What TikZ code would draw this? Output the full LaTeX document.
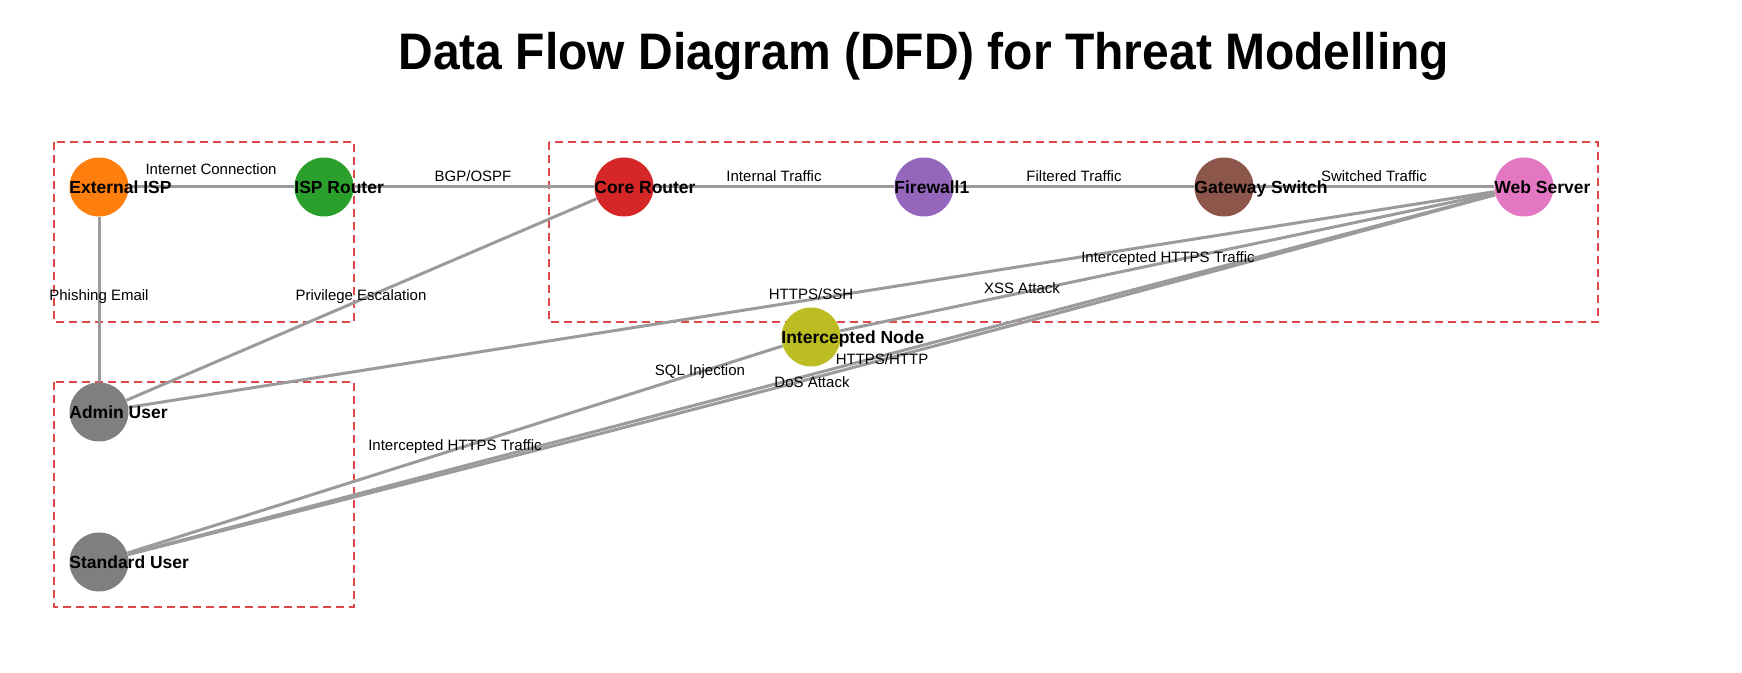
\documentclass[tikz,border=0pt]{standalone}
\usepackage{fontspec}
\setmainfont{Liberation Sans}
\usetikzlibrary{backgrounds}
\definecolor{cOrange}{HTML}{FF7F0E}
\definecolor{cGreen}{HTML}{2CA02C}
\definecolor{cRed}{HTML}{D62728}
\definecolor{cPurple}{HTML}{9467BD}
\definecolor{cBrown}{HTML}{8C564B}
\definecolor{cPink}{HTML}{E377C2}
\definecolor{cGray}{HTML}{7F7F7F}
\definecolor{cOlive}{HTML}{BCBD22}
\definecolor{edgegray}{RGB}{155,155,155}
\definecolor{zonered}{RGB}{222,72,72}
\begin{document}
\begin{tikzpicture}[x=0.5pt,y=-0.5pt,
  dot/.style={circle, minimum size=29.5pt, inner sep=0pt, draw=none},
  nlab/.style={anchor=base west, inner sep=0pt, font=\bfseries\fontsize{8.75pt}{10pt}\selectfont},
  elab/.style={anchor=base, inner sep=0pt, font=\fontsize{7.5pt}{9pt}\selectfont},
  flow/.style={draw=edgegray, line width=1.5pt},
  zone/.style={draw=zonered, line width=0.85pt, dash pattern=on 4pt off 2.5pt}]
\useasboundingbox (0,0) rectangle (1742,673);

% title
\node[anchor=base, inner sep=0pt, font=\bfseries\fontsize{24pt}{28pt}\selectfont] (title) at (924,70) {\scalebox{1}[1.07]{Data Flow Diagram (DFD) for Threat Modelling}};

% nodes
\node[dot, fill=cOrange] (ext) at (99,187) {};
\node[dot, fill=cGreen]  (isp) at (324,187) {};
\node[dot, fill=cRed]    (core) at (624,187) {};
\node[dot, fill=cPurple] (fw) at (924,187) {};
\node[dot, fill=cBrown]  (gw) at (1224,187) {};
\node[dot, fill=cPink]   (web) at (1524,187) {};
\node[dot, fill=cGray]   (adm) at (99,412) {};
\node[dot, fill=cGray]   (std) at (99,562) {};
\node[dot, fill=cOlive]  (icp) at (811,337) {};

% zones and flows underneath
\begin{scope}[on background layer]
\draw[zone] (54,142) rectangle (354,322);
\draw[zone] (549,142) rectangle (1598,322);
\draw[zone] (54,382) rectangle (354,607);
\draw[flow] (ext) -- (isp);
\draw[flow] (isp) -- (core);
\draw[flow] (core) -- (fw);
\draw[flow] (fw) -- (gw);
\draw[flow] (gw) -- (web);
\draw[flow] (ext) -- (adm);
\draw[flow] (adm) -- (core);
\draw[flow] (adm) -- (web);
\draw[flow] (std) -- (icp);
\draw[flow] (icp) -- (web);
\draw[flow] (std) -- (web);
\draw[flow] (std) to[bend right=0.5] (web);
\end{scope}

% node labels
\node[nlab] (extL)  at (69,193.3) {External ISP};
\node[nlab] (ispL)  at (294,193.3) {ISP Router};
\node[nlab] (coreL) at (594,193.3) {Core Router};
\node[nlab] (fwL)   at (894,193.3) {Firewall1};
\node[nlab] (gwL)   at (1194,193.3) {Gateway Switch};
\node[nlab] (webL)  at (1494,193.3) {Web Server};
\node[nlab] (admL)  at (69,418.3) {Admin User};
\node[nlab] (stdL)  at (69,568.3) {Standard User};
\node[nlab] (icpL)  at (781,343.3) {Intercepted Node};

% edge labels
\node[elab] (l1)  at (211,175) {Internet Connection};
\node[elab] (l2)  at (473,181.5) {BGP/OSPF};
\node[elab] (l3)  at (774,181.5) {Internal Traffic};
\node[elab] (l4)  at (1074,181.5) {Filtered Traffic};
\node[elab] (l5)  at (1374,181.5) {Switched Traffic};
\node[elab] (l6)  at (99,300.5) {Phishing Email};
\node[elab] (l7)  at (361,300.5) {Privilege Escalation};
\node[elab] (l8)  at (811,299.5) {HTTPS/SSH};
\node[elab] (l9)  at (1168,262.5) {Intercepted HTTPS Traffic};
\node[elab] (l10) at (1022,293.5) {XSS Attack};
\node[elab] (l11) at (700,375.5) {SQL Injection};
\node[elab] (l12) at (882,364.5) {HTTPS/HTTP};
\node[elab] (l13) at (812,387.5) {DoS Attack};
\node[elab] (l14) at (455,450.5) {Intercepted HTTPS Traffic};
\end{tikzpicture}
\end{document}
